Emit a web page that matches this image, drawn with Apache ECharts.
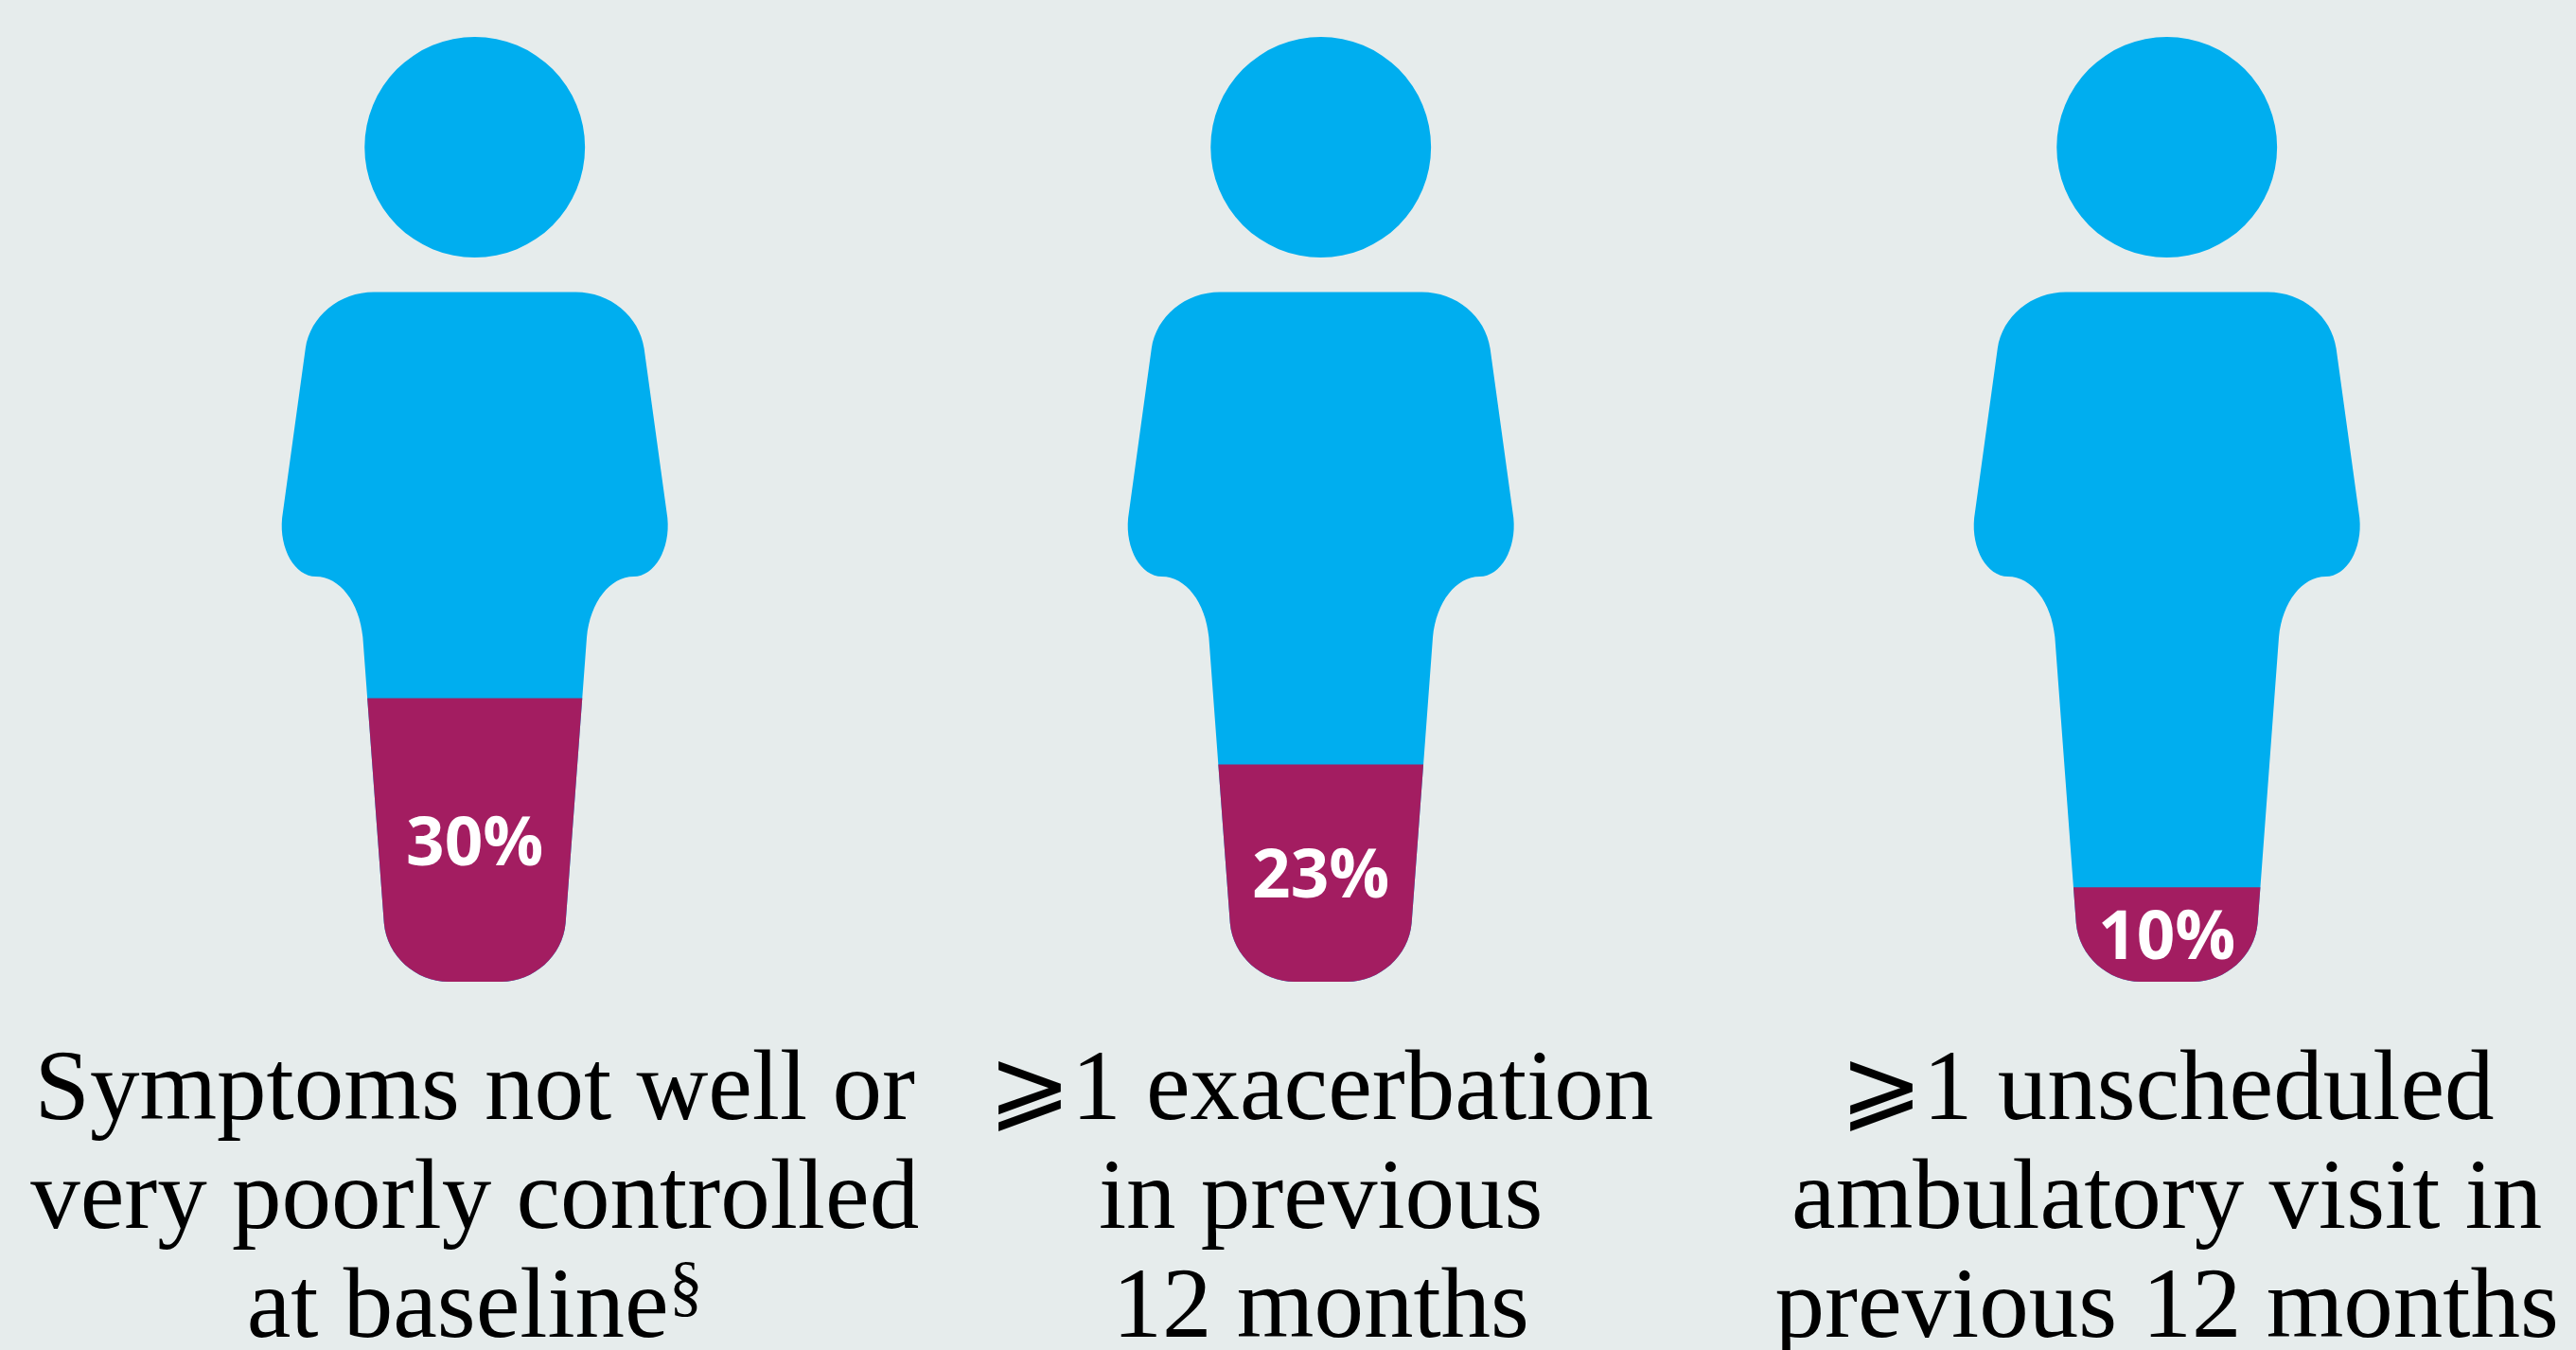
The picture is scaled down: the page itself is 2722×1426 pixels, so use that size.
<!DOCTYPE html>
<html>
<head>
<meta charset="utf-8">
<script src="https://cdn.jsdelivr.net/npm/echarts@6/dist/echarts.min.js"></script>
<style>html,body{margin:0;padding:0;background:#e6ecec}#c{width:2722px;height:1426px}</style>
</head>
<body>
<div id="c"></div>
<script>
const categories = [
  'Symptoms not well or\nvery poorly controlled\nat baseline§',
  '⩾1 exacerbation\nin previous\n12 months',
  '⩾1 unscheduled\nambulatory visit in\nprevious 12 months'
];
const percentValues = [30, 23, 10];
const fullValues = [100, 100, 100];

const personShape = 'path://M0 39A116.5 116.5 0 1 1 0 272A116.5 116.5 0 1 1 0 39Z' +
  'M-106.7 308.5L106.7 308.5C143 308.5 174 334 179 368L203.7 547C207 580 190 609 168 609' +
  'C143 609 122 636 118.4 673L96 975C93 1010 62 1037 28 1037L-28 1037' +
  'C-62 1037 -93 1010 -96 975L-118.4 673C-122 636 -143 609 -168 609' +
  'C-190 609 -207 580 -203.7 547L-179 368C-174 334 -143 308.5 -106.7 308.5Z';

const chart = echarts.init(document.getElementById('c'), null, {renderer: 'canvas'});
chart.setOption({
  animation: false,
  backgroundColor: '#e6ecec',
  grid: {left: 54.7, width: 2682, top: 39, height: 998, containLabel: false, outerBoundsMode: 'none'},
  xAxis: {
    type: 'category',
    data: categories,
    axisLine: {show: false},
    axisTick: {show: false},
    axisLabel: {
      show: true,
      interval: 0,
      hideOverlap: false,
      margin: 60,
      formatter: function (v) {
        return v.split('\n').map(function (l) {
          return l.indexOf('§') >= 0 ? '{t|' + l.replace('§', '') + '}{s|§}' : '{t|' + l + '}';
        }).join('\n');
      },
      rich: {
        t: {fontFamily: '"Liberation Serif","DejaVu Serif",serif', fontSize: 105, lineHeight: 115, color: '#000'},
        s: {fontFamily: '"Liberation Serif","DejaVu Serif",serif', fontSize: 72, lineHeight: 115, verticalAlign: 'top', color: '#000'}
      }
    }
  },
  yAxis: {type: 'value', min: 0, max: 100, show: false, splitLine: {show: false}},
  series: [
    {
      type: 'pictorialBar',
      data: fullValues,
      symbol: personShape,
      symbolSize: [408, '100%'],
      symbolBoundingData: 100,
      symbolPosition: 'start',
      silent: true,
      itemStyle: {color: '#00aeef'},
      z: 2
    },
    {
      type: 'pictorialBar',
      data: percentValues,
      symbol: personShape,
      symbolSize: [408, '100%'],
      symbolBoundingData: 100,
      symbolPosition: 'start',
      symbolClip: true,
      silent: true,
      itemStyle: {color: '#a31d61'},
      z: 3
    },
    {
      type: 'bar',
      data: percentValues,
      barWidth: 100,
      silent: true,
      itemStyle: {color: 'rgba(0,0,0,0)'},
      z: 4,
      label: {
        show: true,
        position: 'inside',
        offset: [0, 6],
        formatter: '{c}%',
        color: '#fff',
        fontFamily: '"Open Sans",sans-serif',
        fontWeight: 700,
        fontSize: 71
      }
    }
  ]
});
</script>
</body>
</html>
